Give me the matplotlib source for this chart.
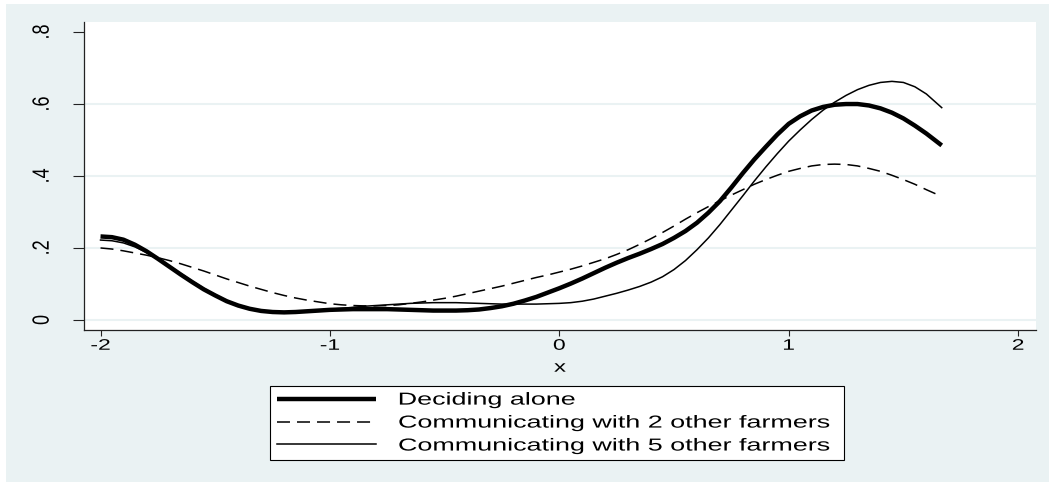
import matplotlib
matplotlib.use('Agg')
import matplotlib.pyplot as plt
import matplotlib.patheffects as pe
from matplotlib.patches import Rectangle
from matplotlib.transforms import Affine2D

plt.rcParams['font.family'] = ['Liberation Sans', 'DejaVu Sans']

# density estimates on a common x grid (step .05)
x = [-2.00, -1.95, -1.90, -1.85, -1.80, -1.75, -1.70, -1.65, -1.60, -1.55,
     -1.50, -1.45, -1.40, -1.35, -1.30, -1.25, -1.20, -1.15, -1.10, -1.05,
     -1.00, -0.95, -0.90, -0.85, -0.80, -0.75, -0.70, -0.65, -0.60, -0.55,
     -0.50, -0.45, -0.40, -0.35, -0.30, -0.25, -0.20, -0.15, -0.10, -0.05,
     0.00, 0.05, 0.10, 0.15, 0.20, 0.25, 0.30, 0.35, 0.40, 0.45,
     0.50, 0.55, 0.60, 0.65, 0.70, 0.75, 0.80, 0.85, 0.90, 0.95,
     1.00, 1.05, 1.10, 1.15, 1.20, 1.25, 1.30, 1.35, 1.40, 1.45,
     1.50, 1.55, 1.60, 1.667]
alone = [0.232, 0.230, 0.223, 0.209, 0.191, 0.170, 0.148, 0.126, 0.105, 0.085,
         0.068, 0.052, 0.040, 0.031, 0.025, 0.022, 0.021, 0.022, 0.024, 0.026,
         0.028, 0.029, 0.030, 0.030, 0.030, 0.030, 0.029, 0.028, 0.027, 0.026,
         0.026, 0.026, 0.027, 0.029, 0.033, 0.038, 0.045, 0.054, 0.064, 0.076,
         0.088, 0.101, 0.115, 0.130, 0.145, 0.159, 0.172, 0.184, 0.197, 0.211,
         0.228, 0.247, 0.270, 0.298, 0.330, 0.368, 0.408, 0.446, 0.481, 0.515,
         0.545, 0.566, 0.582, 0.592, 0.598, 0.600, 0.600, 0.596, 0.588, 0.576,
         0.560, 0.540, 0.518, 0.485]
two_farmers = [0.200, 0.197, 0.192, 0.186, 0.180, 0.173, 0.165, 0.156, 0.146, 0.136,
               0.125, 0.114, 0.104, 0.094, 0.085, 0.076, 0.068, 0.061, 0.055, 0.050,
               0.045, 0.042, 0.040, 0.039, 0.039, 0.040, 0.042, 0.046, 0.050, 0.055,
               0.060, 0.066, 0.073, 0.080, 0.087, 0.094, 0.102, 0.110, 0.118, 0.125,
               0.133, 0.141, 0.150, 0.160, 0.170, 0.182, 0.195, 0.210, 0.226, 0.243,
               0.261, 0.280, 0.298, 0.315, 0.331, 0.347, 0.362, 0.377, 0.390, 0.402,
               0.413, 0.421, 0.428, 0.432, 0.433, 0.432, 0.428, 0.421, 0.413, 0.402,
               0.390, 0.377, 0.362, 0.343]
five_farmers = [0.222, 0.220, 0.214, 0.203, 0.188, 0.170, 0.150, 0.129, 0.108, 0.088,
                0.070, 0.054, 0.042, 0.032, 0.026, 0.023, 0.022, 0.023, 0.025, 0.027,
                0.030, 0.032, 0.035, 0.038, 0.040, 0.042, 0.044, 0.046, 0.047, 0.048,
                0.048, 0.048, 0.047, 0.046, 0.045, 0.044, 0.044, 0.044, 0.044, 0.045,
                0.046, 0.048, 0.052, 0.058, 0.066, 0.074, 0.083, 0.093, 0.105, 0.120,
                0.140, 0.165, 0.195, 0.228, 0.265, 0.305, 0.345, 0.386, 0.425, 0.462,
                0.497, 0.528, 0.557, 0.583, 0.605, 0.624, 0.640, 0.652, 0.660, 0.663,
                0.660, 0.648, 0.628, 0.590]

labels = ['Deciding alone',
          'Communicating with 2 other farmers',
          'Communicating with 5 other farmers']
xticks = [-2, -1, 0, 1, 2]
xtick_labels = ['-2', '-1', '0', '1', '2']
yticks = [0, 0.2, 0.4, 0.6, 0.8]
ytick_labels = ['0', '.2', '.4', '.6', '.8']

bg = '#eaf2f3'


class Widen(pe.AbstractPathEffect):
    # draw text glyphs stretched sideways (wide export look)
    def __init__(self, sx, anchor='center'):
        super().__init__()
        self.sx = sx
        self.anchor = anchor

    def draw_path(self, renderer, gc, tpath, affine, rgbFace=None):
        ext = tpath.get_extents(affine)
        x0 = ext.x0 if self.anchor == 'left' else (ext.x0 + ext.x1) / 2
        affine = affine + Affine2D().translate(-x0, 0).scale(self.sx, 1).translate(x0, 0)
        renderer.draw_path(gc, tpath, affine, rgbFace)


W, H = 1049, 482
fig = plt.figure(figsize=(W / 100, H / 100), dpi=100, facecolor='white')
fig.patches.append(Rectangle((6 / W, 0), 1, (H - 4) / H, transform=fig.transFigure,
                             facecolor=bg, edgecolor='none', zorder=-5))

ax = fig.add_axes([84 / W, 152 / H, 952 / W, 308 / H])
ax.set_facecolor('white')

for v in yticks[:-1]:
    ax.axhline(v, color=bg, lw=1.5, zorder=1)

ax.plot(x, alone, color='black', lw=3.2, solid_capstyle='butt', label=labels[0], zorder=3)
ax.plot(x, two_farmers, color='black', lw=1.1, ls=(0, (8.5, 4.6)), label=labels[1], zorder=3)
ax.plot(x, five_farmers, color='black', lw=1.1, label=labels[2], zorder=3)

ax.set_xlim(-2.072, 2.078)
ax.set_ylim(-0.028, 0.828)
ax.spines['top'].set_visible(False)
ax.spines['right'].set_visible(False)
for s in ['left', 'bottom']:
    ax.spines[s].set_color('#222222')
    ax.spines[s].set_linewidth(0.9)

ax.set_xticks(xticks, xtick_labels)
ax.set_yticks(yticks, ytick_labels)
ax.tick_params(axis='x', length=4.3, width=0.8, pad=2, labelsize=11, color='#222222')
ax.tick_params(axis='y', length=7.9, width=0.8, pad=16, labelsize=13, labelrotation=90,
               color='#222222')
for lab in ax.get_yticklabels():
    lab.set_va('center')
    lab.set_path_effects([Widen(1.3)])
for lab in ax.get_xticklabels():
    lab.set_path_effects([Widen(1.5)])

xl = ax.set_xlabel('x', fontsize=11.5, labelpad=5)
xl.set_path_effects([Widen(1.5)])

leg = fig.legend(loc='center', bbox_to_anchor=(270 / W, 20 / H, 574 / W, 78 / H),
                 mode='expand', fontsize=12.5, handlelength=5.7, handletextpad=1.3,
                 borderpad=0.4, labelspacing=0.45, borderaxespad=0, fancybox=False,
                 framealpha=1, edgecolor='black')
leg.get_frame().set_linewidth(0.8)
for t in leg.get_texts():
    t.set_path_effects([Widen(1.55, anchor='left')])

fig.savefig('out.png', dpi=100)
